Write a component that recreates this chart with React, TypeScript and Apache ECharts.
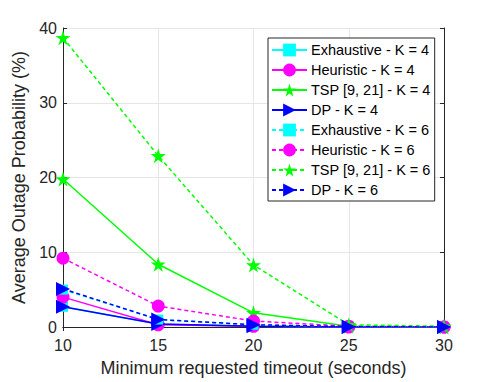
import React, { useEffect, useRef } from "react";
import * as echarts from "echarts";

const timeouts = [10, 15, 20, 25, 30];
const exhaustiveK4 = [2.7, 0.4, 0.1, 0.0, 0.0];
const heuristicK4 = [4.0, 0.3, 0.1, 0.0, 0.0];
const tspK4 = [19.8, 8.4, 1.9, 0.1, 0.0];
const dpK4 = [2.7, 0.4, 0.1, 0.0, 0.0];
const exhaustiveK6 = [5.0, 1.0, 0.3, 0.05, 0.0];
const heuristicK6 = [9.2, 2.8, 0.8, 0.1, 0.0];
const tspK6 = [38.7, 22.9, 8.3, 0.3, 0.1];
const dpK6 = [5.1, 1.0, 0.3, 0.05, 0.0];
const yTicks = [0, 10, 20, 30, 40];

const STAR = "path://M50,0 L61,35 L98,35 L68,57 L79,91 L50,70 L21,91 L32,57 L2,35 L39,35 Z";

const seriesDefs = [
  { name: "Exhaustive - K = 4", data: exhaustiveK4, color: "#00ffff", symbol: "rect", size: 10, dash: "solid", rot: 0 },
  { name: "Heuristic - K = 4", data: heuristicK4, color: "#ff00ff", symbol: "circle", size: 13, dash: "solid", rot: 0 },
  { name: "TSP [9, 21] - K = 4", data: tspK4, color: "#00ff00", symbol: STAR, size: 15, dash: "solid", rot: 0 },
  { name: "DP - K = 4", data: dpK4, color: "#0000ff", symbol: "triangle", size: 14, dash: "solid", rot: -90 },
  { name: "Exhaustive - K = 6", data: exhaustiveK6, color: "#00ffff", symbol: "rect", size: 10, dash: [4, 3], rot: 0 },
  { name: "Heuristic - K = 6", data: heuristicK6, color: "#ff00ff", symbol: "circle", size: 13, dash: [4, 3], rot: 0 },
  { name: "TSP [9, 21] - K = 6", data: tspK6, color: "#00ff00", symbol: STAR, size: 15, dash: [4, 3], rot: 0 },
  { name: "DP - K = 6", data: dpK6, color: "#0000ff", symbol: "triangle", size: 14, dash: [4, 3], rot: -90 },
];

export default function App() {
  const ref = useRef<HTMLDivElement>(null);
  useEffect(() => {
    if (!ref.current) return;
    const chart = echarts.init(ref.current, undefined, { renderer: "svg" });
    const axisColor = "#262626";
    const font = "Liberation Sans, Arial, sans-serif";
    chart.setOption({
      animation: false,
      backgroundColor: "#ffffff",
      textStyle: { fontFamily: font },
      grid: { left: 63, right: 47, top: 28, bottom: 52, containLabel: false },
      legend: {
        left: 268,
        top: 38,
        orient: "vertical",
        itemWidth: 35,
        itemHeight: 16,
        itemGap: 4,
        padding: [4, 4, 3, 3],
        borderColor: axisColor,
        borderWidth: 1,
        backgroundColor: "#ffffff",
        textStyle: { fontSize: 14.5, lineHeight: 16, color: "#000", fontFamily: font, padding: [0, 0, 0, -1] },
        data: seriesDefs.map((s) => s.name),
      },
      xAxis: [
        {
          type: "value",
          min: 10,
          max: 30,
          interval: 5,
          name: "Minimum requested timeout (seconds)",
          nameLocation: "middle",
          nameGap: 32,
          nameTextStyle: { fontSize: 18, color: axisColor, fontFamily: font },
          axisLine: { show: true, lineStyle: { color: axisColor } },
          axisTick: { show: true, inside: true, length: 4, lineStyle: { color: axisColor } },
          axisLabel: { fontSize: 16, color: axisColor, margin: 10, fontFamily: font },
          splitLine: { show: true, lineStyle: { color: "#e6e6e6" } },
        },
        {
          type: "value",
          position: "top",
          min: 10,
          max: 30,
          interval: 5,
          axisLine: { show: true, lineStyle: { color: axisColor } },
          axisTick: { show: true, inside: true, length: 4, lineStyle: { color: axisColor } },
          axisLabel: { show: false },
          splitLine: { show: false },
        },
      ],
      yAxis: [
        {
          type: "value",
          min: 0,
          max: 40,
          interval: 10,
          name: "Average Outage Probability (%)",
          nameLocation: "middle",
          nameGap: 25,
          nameTextStyle: { fontSize: 18, color: axisColor, fontFamily: font },
          axisLine: { show: true, lineStyle: { color: axisColor } },
          axisTick: { show: true, inside: true, length: 4, lineStyle: { color: axisColor } },
          axisLabel: {
            fontSize: 16,
            color: axisColor,
            margin: 6,
            fontFamily: font,
            formatter: (v: number) => (yTicks.includes(v) ? String(v) : ""),
          },
          splitLine: { show: true, lineStyle: { color: "#e6e6e6" } },
        },
        {
          type: "value",
          position: "right",
          min: 0,
          max: 40,
          interval: 10,
          axisLine: { show: true, lineStyle: { color: axisColor } },
          axisTick: { show: true, inside: true, length: 4, lineStyle: { color: axisColor } },
          axisLabel: { show: false },
          splitLine: { show: false },
        },
      ],
      series: seriesDefs.map((s, i) => ({
        name: s.name,
        type: "line",
        xAxisIndex: 0,
        yAxisIndex: 0,
        data: timeouts.map((t, j) => [t, s.data[j]]),
        symbol: s.symbol,
        symbolSize: s.size,
        symbolRotate: s.rot,
        showAllSymbol: true,
        z: 2 + i,
        itemStyle: { color: s.color, borderWidth: 0 },
        lineStyle: { color: s.color, width: 1.5, type: s.dash },
        emphasis: { disabled: true },
      })),
    });
    return () => chart.dispose();
  }, []);
  return (
    <div
      ref={ref}
      style={{ position: "fixed", left: 0, top: 0, width: 491, height: 382 }}
    />
  );
}
